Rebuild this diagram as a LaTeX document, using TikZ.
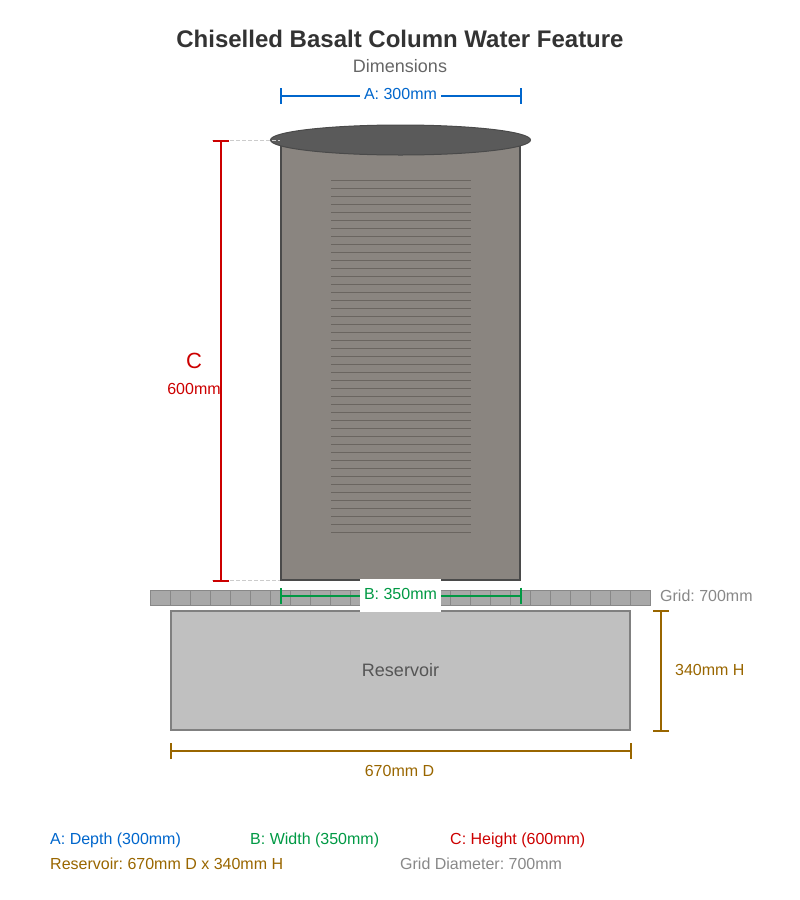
\documentclass[tikz,border=0pt]{standalone}
\usepackage{fontspec}
\setmainfont{Liberation Sans}
\usetikzlibrary{arrows.meta,positioning,shapes.geometric}
\definecolor{depthblue}{HTML}{0066CC}
\definecolor{widthgreen}{HTML}{009944}
\definecolor{heightred}{HTML}{CC0000}
\definecolor{resbrown}{HTML}{996600}
\definecolor{gridgrey}{HTML}{888888}
\definecolor{basaltedge}{HTML}{4A4A4A}
\tikzset{
    %Define style for the parts
    basalt/.style={
           rectangle,
           draw=basaltedge,
           line width=2pt,
           fill={rgb,255:red,138;green,133;blue,128},
           minimum width=239pt,
           minimum height=439.5pt,
           outer sep=0pt,
           inner sep=0pt},
    basalttop/.style={
           ellipse,
           draw=basaltedge,
           line width=1pt,
           fill={rgb,255:red,90;green,90;blue,90},
           minimum width=260pt,
           minimum height=30pt,
           inner sep=0pt},
    reservoir/.style={
           rectangle,
           draw=gray,
           line width=2pt,
           fill={rgb,255:red,192;green,192;blue,192},
           minimum width=459pt,
           minimum height=119pt,
           outer sep=0pt,
           text={rgb,255:red,85;green,85;blue,85},
           font=\fontsize{18}{21}\selectfont},
    gridplate/.style={
           rectangle,
           draw=gridgrey,
           line width=1pt,
           fill={rgb,255:red,168;green,168;blue,168},
           minimum width=500pt,
           minimum height=15pt,
           outer sep=0pt,
           inner sep=0pt},
    % Define style for texts
    lbl/.style={font=\fontsize{16}{19}\selectfont, inner sep=0pt},
    legend/.style={lbl, anchor=base west},
    % Define arrow style
    dim/.style={line width=2pt, {Bar[width=16pt,line width=2pt]}-{Bar[width=16pt,line width=2pt]}},
    guide/.style={draw={rgb,255:red,204;green,204;blue,204}, line width=1pt, dash pattern=on 4pt off 2pt}
}
\begin{document}
\frenchspacing
\begin{tikzpicture}[x=1pt,y=-1pt]
\useasboundingbox (0,0) rectangle (800,900);
\node[font=\fontsize{24}{28}\selectfont\bfseries, text={rgb,255:red,51;green,51;blue,51}, inner sep=0pt, anchor=base] (title) at (400,47) {Chiselled Basalt Column Water Feature};
\node[font=\fontsize{18}{21}\selectfont, text={rgb,255:red,102;green,102;blue,102}, inner sep=0pt, anchor=base] (subtitle) at (400,72.5) {Dimensions};
% grid
\node[gridplate] (grid) at (400,597.5) {};
\foreach \x in {170,190,...,630}
	\draw[gridgrey, line width=1pt] (\x+.5,590) -- (\x+.5,605);
% reservoir
\node[reservoir] (res) at (400.5,670.5) {Reservoir};
% column
\node[basalt] (col) at (400.5,359.75) {};
\foreach \y in {180,188,...,532}
	\draw[line width=1pt, draw={rgb,255:red,106;green,101;blue,96}] (331,\y+.5) -- (471,\y+.5);
\node[basalttop] (top) at (400.5,140) {};
% guides
\coordinate (c1) at (221,140);
\coordinate (c2) at (221,582);
\draw[guide] (212,140.5) -- (280,140.5);
\draw[guide] (212,580.5) -- (280,580.5);
\draw[dim, heightred] (c1) -- (c2);
\node[lbl, heightred, font=\fontsize{22}{26}\selectfont, anchor=base] (clabel) at (194,368) {C};
\node[lbl, heightred, anchor=base] (cvalue) at (194,394) {600mm};
% depth
\coordinate (a1) at (280,96);
\coordinate (a2) at (522,96);
\draw[dim, depthblue] (a1) -- (a2);
\node[lbl, depthblue, fill=white, minimum width=81pt, minimum height=19pt, text depth=0pt] (alabel) at (400.5,94) {A: 300mm};
% width
\node[fill=white, minimum width=81pt, minimum height=33pt, inner sep=0pt, outer sep=0pt] (bbox) at (400.5,595.5) {};
\coordinate (b1) at (280,595.5);
\coordinate (b2) at (bbox.west |- b1);
\coordinate (b4) at (522,595.5);
\coordinate (b3) at (bbox.east |- b4);
\draw[line width=2pt, widthgreen, {Bar[width=16pt,line width=2pt]}-] (b1) -- (b2);
\draw[line width=2pt, widthgreen, -{Bar[width=16pt,line width=2pt]}] (b3) -- (b4);
\node[lbl, widthgreen, anchor=base] (blabel) at (400.5,599) {B: 350mm};
\node[lbl, gridgrey, anchor=base west] (glabel) at (660,601) {Grid: 700mm};
% reservoir dimensions
\coordinate (h1) at (661,610);
\coordinate (h2) at (661,732);
\draw[dim, resbrown] (h1) -- (h2);
\node[lbl, resbrown, anchor=base west] (hlabel) at (675,675.5) {340mm H};
\coordinate (d1) at (170,751);
\coordinate (d2) at (632,751);
\draw[dim, resbrown] (d1) -- (d2);
\node[lbl, resbrown, anchor=base] (dlabel) at (399.5,776.5) {670mm D};
% legend
\node[legend, depthblue] (la) at (50,844.5) {A: Depth (300mm)};
\node[legend, widthgreen] (lb) at (250,844.5) {B: Width (350mm)};
\node[legend, heightred] (lc) at (450,844.5) {C: Height (600mm)};
\node[legend, resbrown] (lr) at (50,869.5) {Reservoir: 670mm D x 340mm H};
\node[legend, gridgrey] (lg) at (400,869.5) {Grid Diameter: 700mm};
\end{tikzpicture}
\end{document}
